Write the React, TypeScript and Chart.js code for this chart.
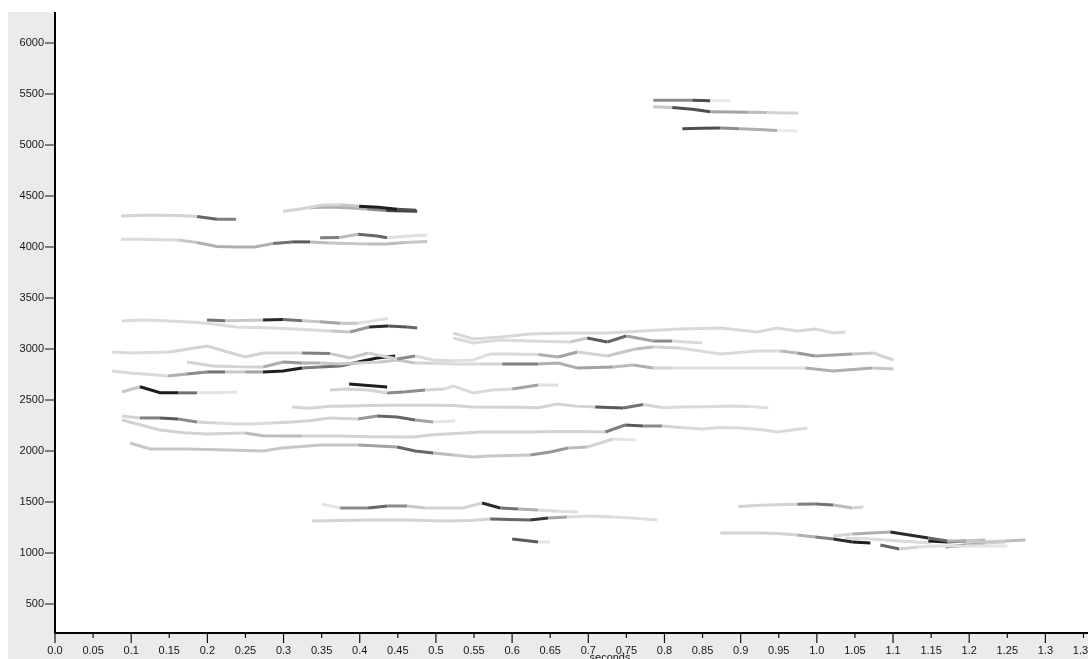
import React, { useEffect, useRef } from "react";
import { Chart, registerables } from "chart.js";

Chart.register(...registerables);

// ---- axis ticks ----
const X_TICKS = [0, 0.05, 0.1, 0.15, 0.2, 0.25, 0.3, 0.35, 0.4, 0.45, 0.5, 0.55, 0.6, 0.65, 0.7, 0.75, 0.8, 0.85, 0.9, 0.95, 1.0, 1.05, 1.1, 1.15, 1.2, 1.25, 1.3, 1.35, 1.4, 1.45];
const Y_TICKS = [500, 1000, 1500, 2000, 2500, 3000, 3500, 4000, 4500, 5000, 5500, 6000];
const X_MIN = 0;
const X_MAX = 1.457;
const Y_MIN = 225.5;
const Y_MAX = 6304;

// ---- formant tracks: time (s), frequency (Hz), amplitude per segment (0..1) ----
const trackA = { time: [0.7853, 0.8102, 0.8365, 0.8601, 0.8864], hz: [5440, 5440, 5440, 5435, 5435], amp: [0.45, 0.45, 0.7, 0.06] };
const trackB = { time: [0.7853, 0.8102, 0.8365, 0.8601, 0.8851, 0.91, 0.935, 0.9599, 0.9757], hz: [5375, 5368, 5350, 5325, 5324, 5322, 5318, 5315, 5314], amp: [0.2, 0.7, 0.7, 0.35, 0.35, 0.25, 0.15, 0.15] };
const trackC = { time: [0.8234, 0.8483, 0.8733, 0.8982, 0.9232, 0.9481, 0.9757], hz: [5160, 5165, 5167, 5160, 5152, 5142, 5137], amp: [0.7, 0.7, 0.45, 0.3, 0.3, 0.06] };
const trackD = { time: [0.0867, 0.1116, 0.1366, 0.1615, 0.1865, 0.2127, 0.2377], hz: [4305, 4312, 4312, 4308, 4300, 4272, 4272], amp: [0.15, 0.15, 0.15, 0.15, 0.6, 0.5] };
const trackE = { time: [0.0867, 0.1116, 0.1366, 0.1615, 0.1865, 0.2127, 0.2377, 0.2626, 0.2863, 0.3112, 0.3349, 0.3598, 0.3848, 0.4097, 0.4347, 0.4596, 0.4885], hz: [4075, 4075, 4072, 4068, 4045, 4005, 4000, 4000, 4035, 4050, 4050, 4040, 4035, 4030, 4030, 4045, 4055], amp: [0.12, 0.12, 0.12, 0.2, 0.3, 0.3, 0.3, 0.3, 0.55, 0.65, 0.25, 0.2, 0.2, 0.25, 0.25, 0.2] };
const trackF = { time: [0.348, 0.3729, 0.3979, 0.4228, 0.436, 0.4609, 0.4885], hz: [4090, 4092, 4125, 4108, 4090, 4105, 4118], amp: [0.5, 0.25, 0.6, 0.6, 0.1, 0.1] };
const trackG = { time: [0.2994, 0.3244, 0.3493, 0.3743, 0.3992, 0.4242, 0.4491, 0.4741], hz: [4350, 4375, 4410, 4415, 4400, 4390, 4370, 4360], amp: [0.15, 0.15, 0.15, 0.2, 0.9, 0.9, 0.7] };
const trackH = { time: [0.3349, 0.3598, 0.3848, 0.4097, 0.4347, 0.4596, 0.4754], hz: [4385, 4392, 4385, 4372, 4358, 4352, 4350], amp: [0.3, 0.3, 0.3, 0.45, 0.75, 0.75] };
const trackI = { time: [0.088, 0.1129, 0.1379, 0.1628, 0.1878, 0.2127, 0.2377, 0.2626, 0.2876, 0.3125, 0.3375, 0.3624, 0.3874, 0.4123, 0.4373, 0.4622, 0.4754], hz: [3274, 3284, 3280, 3270, 3260, 3240, 3216, 3210, 3206, 3196, 3186, 3176, 3167, 3216, 3225, 3215, 3206], amp: [0.12, 0.12, 0.12, 0.12, 0.12, 0.12, 0.12, 0.12, 0.12, 0.12, 0.12, 0.2, 0.4, 0.85, 0.65, 0.6] };
const trackJ = { time: [0.1996, 0.2232, 0.2495, 0.2731, 0.2994, 0.3244, 0.348, 0.3743, 0.3979, 0.4373], hz: [3284, 3278, 3280, 3284, 3290, 3278, 3268, 3252, 3252, 3300], amp: [0.55, 0.2, 0.2, 0.85, 0.55, 0.2, 0.35, 0.2, 0.1] };
const trackK = { time: [0.0749, 0.0985, 0.1248, 0.151, 0.1747, 0.1996, 0.2246, 0.2495, 0.2731, 0.2994, 0.3244, 0.3611, 0.3874, 0.411, 0.4491, 0.4728, 0.4964, 0.5227, 0.5489, 0.5712, 0.5975, 0.6343, 0.6605, 0.6855, 0.7249, 0.7617, 0.7853, 0.8207, 0.8733, 0.9219, 0.9521, 0.9744, 0.998, 1.0466, 1.0742, 1.1005], hz: [2971, 2961, 2965, 2971, 3000, 3030, 2975, 2922, 2961, 2961, 2961, 2955, 2912, 2961, 2902, 2931, 2892, 2885, 2892, 2951, 2951, 2945, 2922, 2971, 2931, 3000, 3020, 3010, 2951, 2980, 2980, 2961, 2931, 2951, 2961, 2892], amp: [0.12, 0.12, 0.12, 0.15, 0.15, 0.15, 0.15, 0.15, 0.15, 0.15, 0.5, 0.2, 0.2, 0.15, 0.45, 0.12, 0.12, 0.1, 0.1, 0.12, 0.12, 0.3, 0.35, 0.15, 0.2, 0.25, 0.15, 0.12, 0.12, 0.12, 0.25, 0.4, 0.35, 0.2, 0.15] };
const trackL = { time: [0.1733, 0.2075, 0.2403, 0.2731, 0.2994, 0.3244, 0.348, 0.3743, 0.3979, 0.4242, 0.4491, 0.4728, 0.4964, 0.5227, 0.5581, 0.587, 0.6106, 0.6343, 0.6605, 0.6855, 0.7328, 0.759, 0.7853, 0.8102, 0.9087, 0.9849, 1.0217, 1.0729, 1.1005], hz: [2873, 2833, 2825, 2824, 2873, 2863, 2863, 2853, 2863, 2870, 2892, 2863, 2860, 2853, 2853, 2853, 2853, 2853, 2863, 2814, 2824, 2843, 2814, 2814, 2814, 2814, 2784, 2814, 2804], amp: [0.15, 0.15, 0.15, 0.3, 0.4, 0.3, 0.2, 0.2, 0.15, 0.2, 0.2, 0.15, 0.12, 0.12, 0.15, 0.5, 0.5, 0.3, 0.3, 0.35, 0.25, 0.3, 0.15, 0.1, 0.1, 0.3, 0.3, 0.2] };
const trackM = { time: [0.0749, 0.0985, 0.1248, 0.1484, 0.1733, 0.1996, 0.2232, 0.2495, 0.2731, 0.2994, 0.3244, 0.348, 0.3743, 0.3979, 0.4228, 0.4465], hz: [2784, 2765, 2750, 2735, 2755, 2775, 2775, 2775, 2775, 2784, 2814, 2824, 2833, 2873, 2912, 2931], amp: [0.12, 0.12, 0.12, 0.3, 0.45, 0.55, 0.2, 0.35, 0.9, 0.9, 0.5, 0.55, 0.6, 0.9, 0.9] };
const trackN = { time: [0.5227, 0.5489, 0.5844, 0.6238, 0.6566, 0.6894, 0.7249, 0.7551, 0.7879, 0.8207, 0.8733, 0.9219, 0.9481, 0.9744, 0.998, 1.0217, 1.0374], hz: [3157, 3098, 3118, 3147, 3155, 3157, 3157, 3170, 3185, 3196, 3206, 3167, 3206, 3176, 3196, 3157, 3167], amp: [0.13, 0.13, 0.13, 0.13, 0.13, 0.13, 0.13, 0.13, 0.13, 0.13, 0.13, 0.13, 0.13, 0.13, 0.13, 0.13] };
const trackO = { time: [0.5227, 0.5489, 0.5844, 0.6238, 0.6763, 0.6986, 0.7249, 0.7498, 0.7853, 0.8102, 0.8496], hz: [3108, 3059, 3088, 3078, 3069, 3108, 3069, 3127, 3078, 3078, 3059], amp: [0.12, 0.12, 0.12, 0.12, 0.2, 0.65, 0.6, 0.35, 0.45, 0.12] };
const trackP = { time: [0.088, 0.1116, 0.1379, 0.1615, 0.1865, 0.2127, 0.239], hz: [2578, 2630, 2572, 2570, 2570, 2572, 2578], amp: [0.2, 0.9, 0.9, 0.55, 0.08, 0.08] };
const trackQ = { time: [0.3611, 0.3861, 0.411, 0.436, 0.4609, 0.4859, 0.5108, 0.5227, 0.5489, 0.5739, 0.6001, 0.6343, 0.6605], hz: [2598, 2608, 2598, 2569, 2580, 2598, 2608, 2637, 2569, 2598, 2608, 2647, 2647], amp: [0.15, 0.15, 0.15, 0.45, 0.45, 0.15, 0.12, 0.12, 0.12, 0.12, 0.35, 0.1] };
const trackR = { time: [0.3861, 0.411, 0.436], hz: [2657, 2642, 2627], amp: [0.9, 0.9] };
const trackS = { time: [0.3112, 0.3349, 0.3611, 0.3874, 0.4137, 0.4399, 0.4662, 0.4924, 0.5227, 0.5489, 0.5844, 0.6106, 0.6343, 0.6592, 0.6842, 0.7091, 0.7459, 0.7722, 0.7984, 0.8207, 0.8536, 0.8864, 0.9127, 0.9363], hz: [2431, 2420, 2438, 2442, 2445, 2448, 2448, 2448, 2445, 2432, 2428, 2428, 2425, 2461, 2440, 2431, 2422, 2455, 2425, 2431, 2435, 2441, 2436, 2422], amp: [0.15, 0.15, 0.15, 0.15, 0.15, 0.15, 0.15, 0.15, 0.15, 0.15, 0.15, 0.15, 0.15, 0.15, 0.15, 0.65, 0.55, 0.15, 0.12, 0.12, 0.12, 0.12, 0.1] };
const trackT = { time: [0.088, 0.1116, 0.1379, 0.1615, 0.1865, 0.2114, 0.2364, 0.26, 0.285, 0.3112, 0.3362, 0.3611, 0.3979, 0.4228, 0.4491, 0.4728, 0.4964, 0.5253], hz: [2343, 2324, 2324, 2314, 2284, 2275, 2265, 2265, 2275, 2284, 2300, 2324, 2314, 2343, 2333, 2304, 2284, 2294], amp: [0.15, 0.5, 0.65, 0.45, 0.15, 0.12, 0.12, 0.12, 0.15, 0.15, 0.15, 0.15, 0.4, 0.6, 0.6, 0.35, 0.08] };
const trackU = { time: [0.088, 0.1129, 0.1379, 0.1694, 0.1996, 0.2246, 0.2495, 0.2731, 0.2994, 0.3244, 0.3493, 0.3743, 0.4137, 0.4701, 0.4964, 0.5318, 0.5581, 0.5909, 0.6238, 0.6566, 0.6894, 0.7223, 0.7485, 0.7722, 0.7971, 0.8207, 0.8496, 0.8733, 0.8995, 0.9258, 0.9481, 0.9875], hz: [2304, 2255, 2206, 2180, 2167, 2172, 2177, 2150, 2147, 2147, 2147, 2147, 2140, 2137, 2160, 2175, 2186, 2186, 2186, 2190, 2190, 2186, 2255, 2245, 2245, 2230, 2216, 2230, 2226, 2210, 2186, 2226], amp: [0.15, 0.15, 0.15, 0.15, 0.15, 0.15, 0.25, 0.25, 0.25, 0.15, 0.15, 0.15, 0.15, 0.15, 0.15, 0.15, 0.15, 0.15, 0.15, 0.15, 0.15, 0.5, 0.65, 0.45, 0.15, 0.12, 0.12, 0.12, 0.12, 0.12, 0.12] };
const trackV = { time: [0.0985, 0.1248, 0.1484, 0.1733, 0.1996, 0.2259, 0.2495, 0.2731, 0.2981, 0.323, 0.348, 0.3729, 0.3979, 0.4242, 0.4491, 0.4728, 0.4964, 0.5227, 0.5489, 0.5712, 0.5975, 0.6238, 0.65, 0.6737, 0.6986, 0.7328, 0.7617], hz: [2078, 2020, 2020, 2020, 2015, 2010, 2005, 2000, 2030, 2045, 2059, 2059, 2059, 2050, 2039, 2000, 1980, 1960, 1941, 1951, 1955, 1961, 1990, 2029, 2039, 2118, 2108], amp: [0.2, 0.2, 0.2, 0.2, 0.2, 0.2, 0.2, 0.2, 0.2, 0.2, 0.2, 0.2, 0.35, 0.35, 0.6, 0.6, 0.25, 0.2, 0.2, 0.2, 0.2, 0.4, 0.4, 0.25, 0.15, 0.08] };
const trackW = { time: [0.3493, 0.3743, 0.411, 0.436, 0.4622, 0.4859, 0.5095, 0.5358, 0.5607, 0.5844, 0.608, 0.6343, 0.6605, 0.6868], hz: [1480, 1441, 1441, 1461, 1461, 1441, 1441, 1441, 1490, 1441, 1431, 1422, 1410, 1402], amp: [0.08, 0.45, 0.6, 0.45, 0.2, 0.15, 0.15, 0.15, 0.85, 0.55, 0.3, 0.12, 0.1] };
const trackX = { time: [0.3375, 0.3743, 0.411, 0.4609, 0.5121, 0.545, 0.5712, 0.5975, 0.6238, 0.6474, 0.6724, 0.7026, 0.7328, 0.7617, 0.7905], hz: [1314, 1318, 1324, 1324, 1314, 1318, 1333, 1328, 1324, 1343, 1353, 1363, 1353, 1340, 1324], amp: [0.15, 0.15, 0.15, 0.15, 0.15, 0.15, 0.6, 0.6, 0.8, 0.35, 0.12, 0.12, 0.1, 0.1] };
const trackY = { time: [0.6001, 0.6343, 0.65], hz: [1137, 1108, 1108], amp: [0.65, 0.08] };
const trackZ = { time: [0.8969, 0.9258, 0.9494, 0.9744, 0.998, 1.0217, 1.0466, 1.0611], hz: [1455, 1468, 1472, 1478, 1480, 1471, 1441, 1451], amp: [0.15, 0.15, 0.15, 0.5, 0.55, 0.25, 0.15] };
const trackK1 = { time: [0.8733, 0.8995, 0.9258, 0.9494, 0.9744, 0.998, 1.0217, 1.0466, 1.0702], hz: [1196, 1196, 1196, 1190, 1176, 1157, 1137, 1108, 1098], amp: [0.15, 0.15, 0.15, 0.15, 0.3, 0.5, 0.85, 0.9] };
const trackK2 = { time: [1.0217, 1.0466, 1.0716, 1.0965, 1.1215, 1.1464, 1.1714, 1.1963, 1.2213, 1.2462, 1.2738], hz: [1167, 1186, 1196, 1206, 1176, 1147, 1118, 1118, 1108, 1118, 1127], amp: [0.15, 0.3, 0.3, 0.85, 0.85, 0.6, 0.3, 0.2, 0.2, 0.25] };
const trackK3 = { time: [1.0834, 1.1083, 1.1333, 1.1582, 1.1832, 1.2081, 1.2502], hz: [1078, 1039, 1059, 1069, 1069, 1069, 1069], amp: [0.6, 0.15, 0.1, 0.1, 0.1, 0.08] };
const trackK4 = { time: [1.1464, 1.1714, 1.1963, 1.2213], hz: [1118, 1108, 1118, 1127], amp: [0.9, 0.6, 0.25] };
const trackK5 = { time: [1.1687, 1.1963, 1.2213, 1.2475], hz: [1059, 1078, 1098, 1108], amp: [0.5, 0.3, 0.15] };
const trackK6 = { time: [1.0374, 1.0702, 1.1096, 1.149], hz: [1147, 1137, 1118, 1098], amp: [0.12, 0.12, 0.12] };

const TRACKS = [
  trackA, trackB, trackC, trackD, trackE, trackF, trackG, trackH, trackI, trackJ,
  trackK, trackL, trackM, trackN, trackO, trackP, trackQ, trackR, trackS, trackT,
  trackU, trackV, trackW, trackX, trackY, trackZ,
  trackK1, trackK2, trackK3, trackK4, trackK5, trackK6,
];

const FONT = { family: "'Liberation Sans', Arial, Helvetica, sans-serif", size: 11 };
const TEXT_COLOR = "#161616";

function shade(a: number): string {
  const g = Math.max(0, Math.min(245, Math.round(247 - 241 * a)));
  return `rgb(${g},${g},${g})`;
}

function fmtX(v: number): string {
  const s = (Math.round(v * 100) / 100).toString();
  return s.includes(".") ? s : s + ".0";
}

const framePlugin = {
  id: "framePlugin",
  beforeDraw(chart: any) {
    const { ctx, chartArea: a, width, height } = chart;
    ctx.save();
    ctx.fillStyle = "#ebebeb";
    ctx.fillRect(0, 0, width, height);
    ctx.fillStyle = "#ffffff";
    ctx.fillRect(a.left, a.top, a.right - a.left, a.bottom - a.top);
    ctx.restore();
  },
  afterDraw(chart: any) {
    const { ctx, chartArea: a, width } = chart;
    const xs = chart.scales.x;
    const ys = chart.scales.y;
    ctx.save();
    ctx.strokeStyle = "#000";
    // axis lines
    ctx.lineWidth = 2;
    ctx.beginPath();
    ctx.moveTo(a.left, a.top);
    ctx.lineTo(a.left, a.bottom + 2);
    ctx.moveTo(a.left - 1, a.bottom + 1);
    ctx.lineTo(width, a.bottom + 1);
    ctx.stroke();
    // tick marks
    ctx.lineWidth = 1.2;
    ctx.strokeStyle = "#111";
    ctx.beginPath();
    Y_TICKS.forEach((v) => {
      const y = ys.getPixelForValue(v);
      ctx.moveTo(a.left - 10, y);
      ctx.lineTo(a.left, y);
    });
    X_TICKS.forEach((v) => {
      const x = xs.getPixelForValue(v);
      const major = Math.round(v * 100) % 10 === 0;
      ctx.moveTo(x, a.bottom + 1);
      ctx.lineTo(x, a.bottom + 1 + (major ? 10 : 5));
    });
    ctx.stroke();
    ctx.restore();
  },
};

export default function App() {
  const canvasRef = useRef<HTMLCanvasElement | null>(null);

  useEffect(() => {
    const canvas = canvasRef.current;
    if (!canvas) return;
    const datasets = TRACKS.map((tr) => ({
      data: tr.time.map((t, i) => ({ x: t, y: tr.hz[i] })),
      borderWidth: 3,
      borderColor: shade(0.15),
      borderCapStyle: "butt" as const,
      pointRadius: 0,
      pointHoverRadius: 0,
      tension: 0,
      fill: false,
      segment: {
        borderColor: (ctx: any) => shade(tr.amp[ctx.p0DataIndex] ?? 0.15),
      },
    }));

    const chart = new Chart(canvas, {
      type: "line",
      data: { datasets },
      options: {
        responsive: false,
        animation: false,
        devicePixelRatio: 1,
        events: [],
        layout: { padding: { left: 0, top: 0, right: 43, bottom: 0 } },
        plugins: { legend: { display: false }, tooltip: { enabled: false }, title: { display: false } },
        scales: {
          x: {
            type: "linear",
            min: X_MIN,
            max: X_MAX,
            grid: { display: false, drawTicks: false },
            border: { display: false },
            afterBuildTicks: (s: any) => {
              s.ticks = X_TICKS.map((v) => ({ value: v }));
            },
            afterFit: (s: any) => {
              s.height = 45;
              s.paddingLeft = 0;
              s.paddingRight = 0;
            },
            ticks: {
              autoSkip: false,
              maxRotation: 0,
              minRotation: 0,
              padding: 12,
              font: FONT,
              color: TEXT_COLOR,
              callback: (v: any) => fmtX(Number(v)),
            },
            title: {
              display: true,
              text: "seconds",
              font: FONT,
              color: TEXT_COLOR,
              padding: { top: 0, bottom: 12 },
            },
          },
          y: {
            type: "linear",
            min: Y_MIN,
            max: Y_MAX,
            grid: { display: false, drawTicks: false },
            border: { display: false },
            afterBuildTicks: (s: any) => {
              s.ticks = Y_TICKS.map((v) => ({ value: v }));
            },
            afterFit: (s: any) => {
              s.width = 47;
              s.paddingTop = 0;
              s.paddingBottom = 0;
            },
            ticks: {
              autoSkip: false,
              padding: 11,
              font: FONT,
              color: TEXT_COLOR,
              callback: (v: any) => String(v),
            },
          },
        },
      },
      plugins: [framePlugin],
    });

    return () => chart.destroy();
  }, []);

  return (
    <div
      style={{
        position: "fixed",
        left: 0,
        top: 0,
        width: 1088,
        height: 659,
        overflow: "hidden",
        background: "#ffffff",
      }}
    >
      <canvas
        ref={canvasRef}
        width={1200}
        height={665}
        style={{ position: "absolute", left: 8, top: 12, width: 1200, height: 665 }}
      />
    </div>
  );
}
